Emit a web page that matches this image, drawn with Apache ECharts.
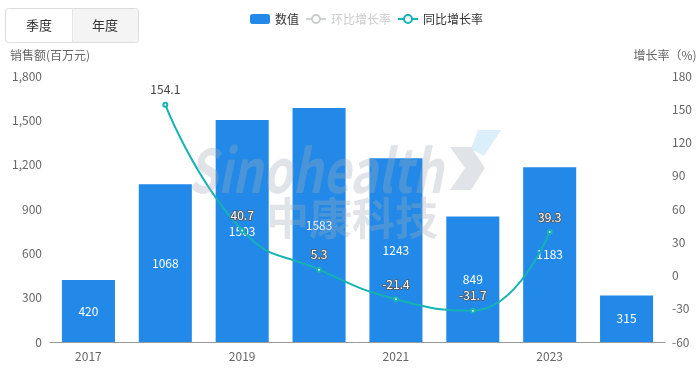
<!DOCTYPE html>
<html>
<head>
<meta charset="utf-8">
<script src="https://cdn.jsdelivr.net/npm/echarts@6/dist/echarts.min.js"></script>
<style>
html,body{margin:0;padding:0;background:#fff;}
#main{width:700px;height:369px;}
</style>
</head>
<body>
<div id="main"></div>
<script>
var categories = ['2017','2018','2019','2020','2021','2022','2023','2024'];
var salesValues = [420, 1068, 1503, 1583, 1243, 849, 1183, 315];
var yoyGrowth = [null, 154.1, 40.7, 5.3, -21.4, -31.7, 39.3, null];
var momGrowth = [];
var leftTicks = {min: 0, max: 1800, interval: 300};
var rightTicks = {min: -60, max: 180, interval: 30};

var FONT = "'Microsoft YaHei','Noto Sans CJK SC',sans-serif";
var chart = echarts.init(document.getElementById('main'));

var yoyData = yoyGrowth.map(function (v, i) {
  if (v === null) return v;
  var item = {value: v};
  if (v > 100) {
    item.label = {color: '#444', textBorderWidth: 0};
  }
  return item;
});

// watermark text fitting
var cv = document.createElement('canvas').getContext('2d');
function fitScale(text, font, width) {
  cv.font = font;
  return width / cv.measureText(text).width;
}
var wmFont1 = 'italic bold 60px ' + FONT;
var wmFont2 = 'bold 44px ' + FONT;
var s1 = fitScale('Sinohealth', wmFont1, 255);
var s2 = fitScale('中康科技', wmFont2, 172);
var WM = 'rgba(160,170,185,0.32)';

chart.setOption({
  backgroundColor: '#fff',
  textStyle: {fontFamily: FONT},
  legend: {
    top: 8,
    left: 245,
    itemWidth: 20,
    itemHeight: 10,
    itemGap: 6,
    textStyle: {fontSize: 12, color: '#333', fontFamily: FONT},
    inactiveColor: '#ccc',
    data: [
      {name: '数值', icon: 'roundRect'},
      {name: '环比增长率'},
      {name: '同比增长率'}
    ],
    selected: {'环比增长率': false}
  },
  grid: {left: 50, right: 35, top: 76, bottom: 27},
  xAxis: {
    type: 'category',
    data: categories,
    axisLine: {lineStyle: {color: '#999'}},
    axisTick: {interval: 1, lineStyle: {color: '#999'}},
    axisLabel: {interval: 1, color: '#666', fontSize: 12, margin: 8}
  },
  yAxis: [
    {
      type: 'value',
      name: '销售额(百万元)',
      nameGap: 15,
      nameTextStyle: {color: '#666', fontSize: 12, align: 'center'},
      min: leftTicks.min, max: leftTicks.max, interval: leftTicks.interval,
      axisLine: {show: false},
      axisTick: {show: false},
      splitLine: {show: false},
      axisLabel: {color: '#666', fontSize: 12, margin: 8}
    },
    {
      type: 'value',
      name: '增长率（%)',
      nameGap: 15,
      nameTextStyle: {color: '#666', fontSize: 12, align: 'center'},
      min: rightTicks.min, max: rightTicks.max, interval: rightTicks.interval,
      axisLine: {show: false},
      axisTick: {show: false},
      splitLine: {show: false},
      axisLabel: {color: '#666', fontSize: 12, margin: 7}
    }
  ],
  series: [
    {
      name: '数值',
      type: 'bar',
      data: salesValues,
      barWidth: '69%',
      itemStyle: {color: '#2289e8'},
      label: {show: true, position: 'inside', color: '#fff', fontSize: 12}
    },
    {
      name: '环比增长率',
      type: 'line',
      yAxisIndex: 1,
      data: momGrowth,
      itemStyle: {color: '#bbb'},
      symbol: 'emptyCircle'
    },
    {
      name: '同比增长率',
      type: 'line',
      yAxisIndex: 1,
      data: yoyData,
      smooth: true,
      symbol: 'emptyCircle',
      symbolSize: 4,
      lineStyle: {color: '#15b3b3', width: 2},
      itemStyle: {color: '#15b3b3', borderColor: '#15b3b3'},
      z: 5,
      label: {
        show: true,
        position: 'top',
        distance: 6,
        color: '#fff',
        fontSize: 12,
        textBorderColor: '#555',
        textBorderWidth: 1.5
      }
    }
  ],
  graphic: [
    {
      type: 'group', left: 5, top: 6, z: 10,
      children: [
        {type: 'rect', shape: {x: 0.5, y: 0.5, width: 133, height: 34, r: 3}, style: {fill: '#fff', stroke: '#dcdcdc', lineWidth: 1}},
        {type: 'rect', shape: {x: 67, y: 1, width: 66, height: 33, r: [0, 3, 3, 0]}, style: {fill: '#f4f4f4'}},
        {type: 'line', shape: {x1: 67.5, y1: 0.5, x2: 67.5, y2: 34.5}, style: {stroke: '#e6e6e6', lineWidth: 1}},
        {type: 'text', x: 34, y: 17.5, style: {text: '季度', fill: '#333', font: '13px ' + FONT, align: 'center', verticalAlign: 'middle'}},
        {type: 'text', x: 100, y: 17.5, style: {text: '年度', fill: '#333', font: '13px ' + FONT, align: 'center', verticalAlign: 'middle'}}
      ]
    },
    {type: 'text', x: 188, y: 170, scaleX: s1, z: 20, silent: true,
      style: {text: 'Sinohealth', fill: WM, font: wmFont1, align: 'left', verticalAlign: 'middle'}},
    {type: 'polygon', z: 20, silent: true,
      shape: {points: [[478, 130], [501, 130], [484, 156], [471, 149]]},
      style: {fill: 'rgba(150,210,240,0.35)'}},
    {type: 'polygon', z: 21, silent: true,
      shape: {points: [[450, 147], [471, 147], [485, 168], [471, 190], [450, 190], [465, 168]]},
      style: {fill: WM}},
    {type: 'text', x: 266, y: 218, scaleX: s2, z: 20, silent: true,
      style: {text: '中康科技', fill: WM, font: wmFont2, align: 'left', verticalAlign: 'middle'}}
  ]
});
</script>
</body>
</html>
